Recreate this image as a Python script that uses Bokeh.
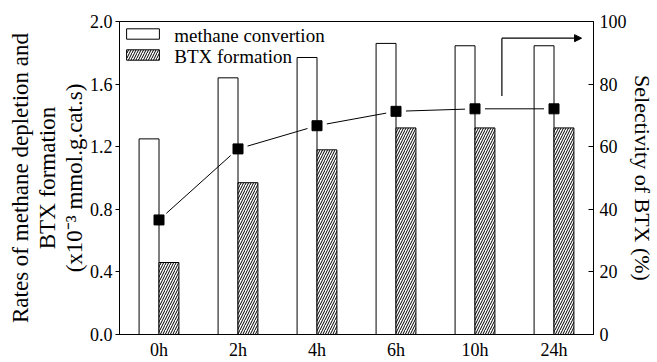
import numpy as np
from bokeh.plotting import figure
from bokeh.models import (Range1d, LinearAxis, FixedTicker, Title, Arrow, NormalHead,
                          Legend, LegendItem, Label)
from bokeh.embed import file_html
from bokeh.resources import INLINE

# ---- data ----
times = ["0h", "2h", "4h", "6h", "10h", "24h"]
methane = [1.25, 1.64, 1.77, 1.86, 1.845, 1.845]
btx = [0.46, 0.97, 1.18, 1.32, 1.32, 1.32]
selectivity = [36.6, 59.3, 66.7, 71.3, 72.1, 72.1]
left_ticks = [0.0, 0.4, 0.8, 1.2, 1.6, 2.0]
right_ticks = [0, 20, 40, 60, 80, 100]
legend_labels = ["methane convertion", "BTX formation"]
left_title = ["Rates of methane depletion and", "BTX formation", "(x10\u207b\u00b3 mmol.g.cat.s)"]
right_title = "Selectivity of BTX (%)"

FONT = "'Liberation Serif', 'Times New Roman', serif"
W, H = 657, 362
BL, BR, BT, BB = 119, 62, 21, 22
n = len(times)
xc = np.arange(n) + 0.5
bw = 0.252

p = figure(width=W, height=H, output_backend="svg", toolbar_location=None,
           x_range=Range1d(0, n), y_range=Range1d(0, 2.0),
           min_border_left=BL, min_border_right=BR, min_border_top=BT, min_border_bottom=BB)
p.extra_y_ranges = {"sel": Range1d(0, 100)}
p.grid.visible = False
p.outline_line_color = "black"
p.outline_line_width = 1
p.background_fill_color = "white"
p.border_fill_color = "white"

r1 = p.vbar(x=xc - bw / 2, top=methane, width=bw, bottom=0,
            fill_color="white", line_color="black", line_width=1)
r2 = p.vbar(x=xc + bw / 2, top=btx, width=bw, bottom=0,
            fill_color="white", line_color="black", line_width=1,
            hatch_pattern="right_diagonal_line", hatch_color="black",
            hatch_scale=5, hatch_weight=1.0)

# connecting line with small gaps around the markers
fw = (W - BL - BR) / n
fh = (H - BT - BB) / 100.0
gap = 10.0
x0s, y0s, x1s, y1s = [], [], [], []
for i in range(n - 1):
    ax, ay, bx, by = xc[i], selectivity[i], xc[i + 1], selectivity[i + 1]
    L = np.hypot((bx - ax) * fw, (by - ay) * fh)
    t = gap / L
    x0s.append(ax + t * (bx - ax)); y0s.append(ay + t * (by - ay))
    x1s.append(bx - t * (bx - ax)); y1s.append(by - t * (by - ay))
p.segment(x0=x0s, y0=y0s, x1=x1s, y1=y1s, line_color="black", line_width=1,
          y_range_name="sel")
p.scatter(x=xc, y=selectivity, marker="square", size=10, fill_color="black",
          line_color="black", y_range_name="sel")

# axes
p.xaxis.ticker = FixedTicker(ticks=list(xc))
p.xaxis.major_label_overrides = {float(x): t for x, t in zip(xc, times)}
p.xaxis.major_tick_out = 0
p.xaxis.major_tick_in = 0
p.xaxis.minor_tick_line_color = None
p.xaxis.major_label_standoff = 5

p.yaxis.ticker = FixedTicker(ticks=left_ticks)
p.yaxis.major_label_overrides = {float(v): f"{v:.1f}" for v in left_ticks}
p.yaxis.major_tick_out = 4
p.yaxis.major_tick_in = 0
p.yaxis.minor_tick_line_color = None
p.yaxis.major_label_standoff = 3

ra = LinearAxis(y_range_name="sel", ticker=FixedTicker(ticks=right_ticks))
ra.major_tick_out = 0
ra.major_tick_in = 5
ra.minor_tick_line_color = None
ra.major_label_standoff = 6
ra.axis_label = right_title
ra.axis_label_standoff = 0
ra.axis_label_text_font = FONT
ra.axis_label_text_font_size = "22px"
ra.axis_label_text_font_style = "normal"
ra.axis_label_text_color = "black"
p.add_layout(ra, "right")

for a in [p.xaxis[0], p.yaxis[0], ra]:
    a.axis_line_color = "black"
    a.major_tick_line_color = "black"
    a.major_label_text_font = FONT
    a.major_label_text_font_size = "18px"
    a.major_label_text_font_style = "normal"
    a.major_label_text_color = "black"
p.xaxis.major_tick_line_color = None

# left multi-line title: stacked panels, innermost first
for txt in reversed(left_title):
    t = Title(text=txt, align="center", text_font=FONT, text_font_size="23px",
              text_font_style="normal", text_color="black", standoff=0, offset=0)
    p.add_layout(t, "left")

def px2x(px):
    return (px - BL) / fw

def py2y(py):
    return (H - BB - py) / (H - BT - BB) * 2.0

ax0, ay0, ay1, ax1 = px2x(503), py2y(97), py2y(38), px2x(583)
p.segment(x0=[ax0], y0=[ay0], x1=[ax0], y1=[ay1], line_color="black", line_width=1.2)
p.add_layout(Arrow(end=NormalHead(size=7, fill_color="black", line_color="black"),
                   x_start=ax0, y_start=ay1, x_end=ax1, y_end=ay1,
                   line_color="black", line_width=1.2))

# legend swatches (text drawn as serif labels next to them)
legend = Legend(items=[LegendItem(label=" ", renderers=[r1]),
                       LegendItem(label=" ", renderers=[r2])],
                location="top_left")
legend.label_text_font_size = "19px"
legend.glyph_width = 41
legend.glyph_height = 13
legend.label_height = 18
legend.spacing = 3
legend.label_standoff = 6
legend.padding = 8
legend.margin = 3
legend.border_line_color = None
legend.background_fill_alpha = 0
p.add_layout(legend)

for txt, py in zip(legend_labels, [35, 57]):
    p.add_layout(Label(x=px2x(174), y=py2y(py), text=txt, text_font=FONT,
                       text_font_size="19px", text_color="black",
                       text_align="left", text_baseline="middle"))

open("out.html", "w").write(file_html(p, INLINE))
